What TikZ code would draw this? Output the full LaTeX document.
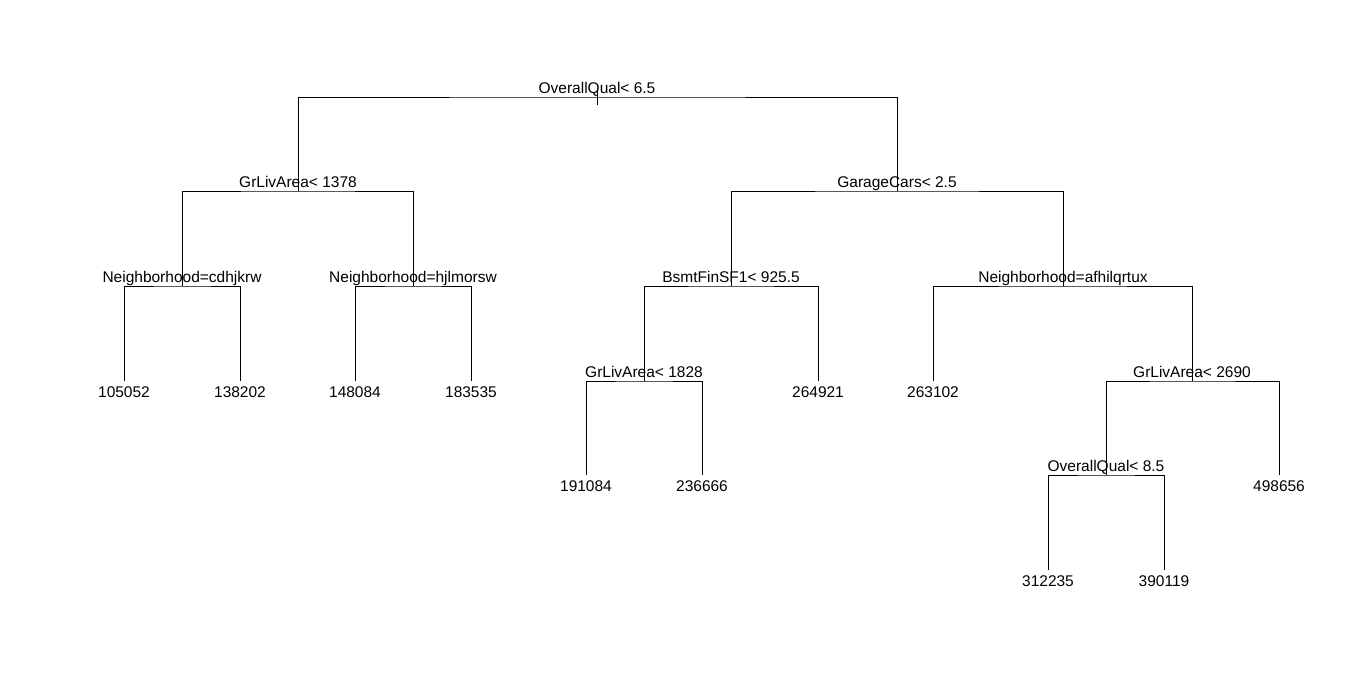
\documentclass[tikz,border=0pt]{standalone}
\usepackage{fontspec}
\setmainfont{Liberation Sans}
\begin{document}
\begin{tikzpicture}[x=1pt,y=-1pt,
  edge/.style={draw=black,line width=0.9pt},
  split/.style={anchor=base,inner sep=0pt,font=\fontsize{15.5}{18}\selectfont},
  leaf/.style={anchor=base,inner sep=0pt,font=\fontsize{15.5}{18}\selectfont}]
\useasboundingbox[fill=white] (0,0) rectangle (1366,686);

% split points (x, bar height)
\coordinate (n1) at (597,97);
\coordinate (n2) at (298,191);
\coordinate (n3) at (897,191);
\coordinate (n4) at (182,286);
\coordinate (n5) at (413,286);
\coordinate (n6) at (731,286);
\coordinate (n7) at (1063,286);
\coordinate (n12) at (644,381);
\coordinate (n15) at (1192,381);
\coordinate (n30) at (1106,475);

% leaf ends
\coordinate (l8) at (124,381);
\coordinate (l9) at (240,381);
\coordinate (l10) at (355,381);
\coordinate (l11) at (471,381);
\coordinate (l13) at (818,381);
\coordinate (l14) at (933,381);
\coordinate (l24) at (586,475);
\coordinate (l25) at (702,475);
\coordinate (l31) at (1279,475);
\coordinate (l60) at (1048,570);
\coordinate (l61) at (1164,570);

% root tick
\coordinate (t1) at (597,90);
\coordinate (t2) at (597,105);
\draw[edge] (t1) -- (t2);

% branches
\draw[edge] (n2) |- (n1) -| (n3);
\draw[edge] (n4) |- (n2) -| (n5);
\draw[edge] (n6) |- (n3) -| (n7);
\draw[edge] (l8) |- (n4) -| (l9);
\draw[edge] (l10) |- (n5) -| (l11);
\draw[edge] (n12) |- (n6) -| (l13);
\draw[edge] (l14) |- (n7) -| (n15);
\draw[edge] (l24) |- (n12) -| (l25);
\draw[edge] (n30) |- (n15) -| (l31);
\draw[edge] (l60) |- (n30) -| (l61);

% split labels
\node[split] (s1) at (597,93.5) {OverallQual< 6.5};
\node[split] (s2) at (298,187.5) {GrLivArea< 1378};
\node[split] (s3) at (897,187.5) {GarageCars< 2.5};
\node[split] (s4) at (182,282.5) {Neighborhood=cdhjkrw};
\node[split] (s5) at (413,282.5) {Neighborhood=hjlmorsw};
\node[split] (s6) at (731,282.5) {BsmtFinSF1< 925.5};
\node[split] (s7) at (1063,282.5) {Neighborhood=afhilqrtux};
\node[split] (s12) at (644,377.5) {GrLivArea< 1828};
\node[split] (s15) at (1192,377.5) {GrLivArea< 2690};
\node[split] (s30) at (1106,471.5) {OverallQual< 8.5};

% leaf values
\node[leaf] (v8) at (124,397.5) {105052};
\node[leaf] (v9) at (240,397.5) {138202};
\node[leaf] (v10) at (355,397.5) {148084};
\node[leaf] (v11) at (471,397.5) {183535};
\node[leaf] (v13) at (818,397.5) {264921};
\node[leaf] (v14) at (933,397.5) {263102};
\node[leaf] (v24) at (586,491.5) {191084};
\node[leaf] (v25) at (702,491.5) {236666};
\node[leaf] (v31) at (1279,491.5) {498656};
\node[leaf] (v60) at (1048,586) {312235};
\node[leaf] (v61) at (1164,586) {390119};
\end{tikzpicture}
\end{document}
